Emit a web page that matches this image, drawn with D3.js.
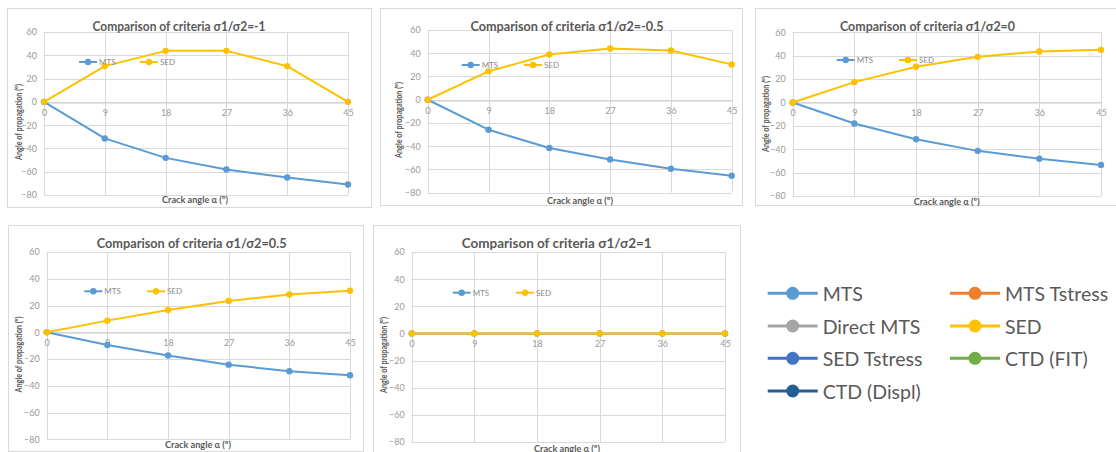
<!DOCTYPE html>
<html>
<head>
<meta charset="utf-8">
<script src="https://cdn.jsdelivr.net/npm/d3@7"></script>
<style>
  html, body { margin: 0; padding: 0; background: #fff; }
  svg { display: block; font-family: Lato, "Open Sans", sans-serif; }
</style>
</head>
<body>
<svg id="chart" width="1116" height="452"></svg>
<script>
// Crack angle categories (degrees) shared by every panel
const crackAngles = [0, 9, 18, 27, 36, 45];
const yTicks = [-80, -60, -40, -20, 0, 20, 40, 60];

// Stress ratio of each panel
const ratioLabels = ["-1", "-0.5", "0", "0.5", "1"];

// Predicted propagation angle (degrees), MTS and SED criteria
const mtsRatioM1  = [0, -31.4, -48.1, -58.1, -65.0, -71.0];
const sedRatioM1  = [0, 30.7, 43.8, 43.8, 30.7, 0];
const mtsRatioM05 = [0, -25.8, -41.6, -51.4, -59.4, -65.4];
const sedRatioM05 = [0, 24.4, 39.0, 44.1, 42.4, 30.4];
const mtsRatio0   = [0, -18.0, -31.4, -41.4, -48.2, -53.4];
const sedRatio0   = [0, 17.4, 30.5, 39.0, 43.6, 45.0];
const mtsRatio05  = [0, -9.5, -17.4, -24.2, -29.1, -32.1];
const sedRatio05  = [0, 8.7, 16.7, 23.4, 28.2, 31.1];
const mtsRatio1   = [0, 0, 0, 0, 0, 0];
const sedRatio1   = [0, 0, 0, 0, 0, 0];

// Shared legend of all criteria
const criteriaNames  = ["MTS", "MTS Tstress", "Direct MTS", "SED", "SED Tstress", "CTD (FIT)", "CTD (Displ)"];
const criteriaColors = ["#5B9BD5", "#ED7D31", "#A5A5A5", "#FFC000", "#4472C4", "#70AD47", "#255E91"];

const MTS_COLOR = criteriaColors[0];
const SED_COLOR = criteriaColors[3];

const mtsSeries = [mtsRatioM1, mtsRatioM05, mtsRatio0, mtsRatio05, mtsRatio1];
const sedSeries = [sedRatioM1, sedRatioM05, sedRatio0, sedRatio05, sedRatio1];

// Geometry of each chart box: frame, plot area, title (x, y, width), axis titles, inline legend
const layout = [
  { frame: [7, 8, 371, 207],   plot: [44, 348, 32, 195],        title: [179, 25, 173],   yTitle: [18, 122],    xTitle: [195, 199.5], legend: [88, 149, 62] },
  { frame: [380, 8, 742, 205], plot: [427.7, 731.7, 30, 192.7], title: [567, 25, 193],   yTitle: [398, 120],   xTitle: [580, 200],   legend: [470.7, 533, 65] },
  { frame: [755, 8, 1120, 205], plot: [792.7, 1101, 32.3, 196], title: [927.5, 25, 175], yTitle: [765, 114],   xTitle: [946.7, 201], legend: [845.7, 908, 60] },
  { frame: [8, 225, 363, 451], plot: [46.7, 350, 252, 439.3],   title: [191.7, 242, 190], yTitle: [18.3, 354.5], xTitle: [198, 444.7], legend: [93.3, 156, 291.3] },
  { frame: [373, 225, 740, 456], plot: [411.7, 725, 252, 442],  title: [556.7, 242.7, 190], yTitle: [383.3, 355], xTitle: [567, 448], legend: [461.7, 525, 292.7] }
];

const svg = d3.select("#chart");
const TEXT = "#595959";
const TICK = "#999999";
const GRID = "#d9d9d9";

layout.forEach((L, i) => {
  const g = svg.append("g");
  const [fx0, fy0, fx1, fy1] = L.frame;
  g.append("rect")
    .attr("x", fx0 + 0.5).attr("y", fy0 + 0.5)
    .attr("width", fx1 - fx0).attr("height", fy1 - fy0)
    .attr("fill", "#fff").attr("stroke", GRID).attr("stroke-width", 1);

  const [px0, px1, pyTop, pyBot] = L.plot;
  const x = d3.scalePoint().domain(crackAngles).range([px0, px1]);
  const y = d3.scaleLinear().domain([-80, 60]).range([pyBot, pyTop]);

  // horizontal gridlines
  g.append("g").selectAll("line").data(yTicks).join("line")
    .attr("x1", px0).attr("x2", px1)
    .attr("y1", d => Math.round(y(d)) + 0.5).attr("y2", d => Math.round(y(d)) + 0.5)
    .attr("stroke", GRID).attr("stroke-width", 1);
  // vertical gridlines at categories
  g.append("g").selectAll("line").data(crackAngles).join("line")
    .attr("x1", d => Math.round(x(d)) + 0.5).attr("x2", d => Math.round(x(d)) + 0.5)
    .attr("y1", pyTop).attr("y2", pyBot)
    .attr("stroke", GRID).attr("stroke-width", 1);

  // value axis labels
  const yAxis = d3.axisLeft(y).tickValues(yTicks).tickSize(0).tickPadding(7);
  const ya = g.append("g").attr("transform", `translate(${px0},0)`).call(yAxis);
  ya.select(".domain").remove();
  ya.selectAll("text").attr("fill", TICK).style("font-size", "9px").style("font-family", "Lato, sans-serif");

  // category axis crossing at zero
  const xAxis = d3.axisBottom(x).tickSize(0).tickPadding(7);
  const xa = g.append("g").attr("transform", `translate(0,${Math.round(y(0)) + 0.5})`).call(xAxis);
  xa.select(".domain").attr("stroke", "#cccccc");
  xa.selectAll("text").attr("fill", TICK).style("font-size", "9px").style("font-family", "Lato, sans-serif");

  // title
  g.append("text")
    .attr("x", L.title[0]).attr("y", L.title[1])
    .attr("text-anchor", "middle").attr("dominant-baseline", "central")
    .attr("fill", TEXT).style("font-size", "14px").style("font-weight", "bold")
    .attr("textLength", L.title[2]).attr("lengthAdjust", "spacingAndGlyphs")
    .text(`Comparison of criteria σ1/σ2=${ratioLabels[i]}`);

  // axis titles
  g.append("text")
    .attr("transform", `translate(${L.yTitle[0]},${L.yTitle[1]}) rotate(-90)`)
    .attr("text-anchor", "middle").attr("dominant-baseline", "central")
    .attr("fill", TEXT).style("font-size", "9px").style("font-weight", "bold")
    .attr("textLength", 76).attr("lengthAdjust", "spacingAndGlyphs")
    .text("Angle of propagation (º)");
  g.append("text")
    .attr("x", L.xTitle[0]).attr("y", L.xTitle[1])
    .attr("text-anchor", "middle").attr("dominant-baseline", "central")
    .attr("fill", TEXT).style("font-size", "9px").style("font-weight", "bold")
    .attr("textLength", 66).attr("lengthAdjust", "spacingAndGlyphs")
    .text("Crack angle α (º)");

  // series
  const line = d3.line().x((d, k) => x(crackAngles[k])).y(d => y(d));
  [[mtsSeries[i], MTS_COLOR], [sedSeries[i], SED_COLOR]].forEach(([vals, col]) => {
    g.append("path").datum(vals)
      .attr("d", line).attr("fill", "none")
      .attr("stroke", col).attr("stroke-width", 2).attr("stroke-linejoin", "round");
    g.append("g").selectAll("circle").data(vals).join("circle")
      .attr("cx", (d, k) => x(crackAngles[k])).attr("cy", d => y(d))
      .attr("r", 3.2).attr("fill", col);
  });

  // inline legend
  [["MTS", MTS_COLOR, L.legend[0]], ["SED", SED_COLOR, L.legend[1]]].forEach(([name, col, cx]) => {
    const ly = L.legend[2];
    g.append("line").attr("x1", cx - 9).attr("x2", cx + 9).attr("y1", ly).attr("y2", ly)
      .attr("stroke", col).attr("stroke-width", 2);
    g.append("circle").attr("cx", cx).attr("cy", ly).attr("r", 3.2).attr("fill", col);
    g.append("text").attr("x", cx + 11).attr("y", ly).attr("dominant-baseline", "central")
      .attr("fill", "#8a8a8a").style("font-size", "8px").text(name);
  });
});

// shared criteria legend
const legendCols = [792.7, 975];
const legendRows = [293.3, 326, 358.3, 391];
const lg = svg.append("g");
criteriaNames.forEach((name, k) => {
  const cx = legendCols[k % 2];
  const cy = legendRows[Math.floor(k / 2)];
  const col = criteriaColors[k];
  lg.append("line").attr("x1", cx - 25).attr("x2", cx + 25).attr("y1", cy).attr("y2", cy)
    .attr("stroke", col).attr("stroke-width", 3);
  lg.append("circle").attr("cx", cx).attr("cy", cy).attr("r", 6.5).attr("fill", col);
  lg.append("text").attr("x", cx + 30).attr("y", cy).attr("dominant-baseline", "central")
    .attr("fill", TEXT).style("font-size", "19.5px").text(name);
});
</script>
</body>
</html>
